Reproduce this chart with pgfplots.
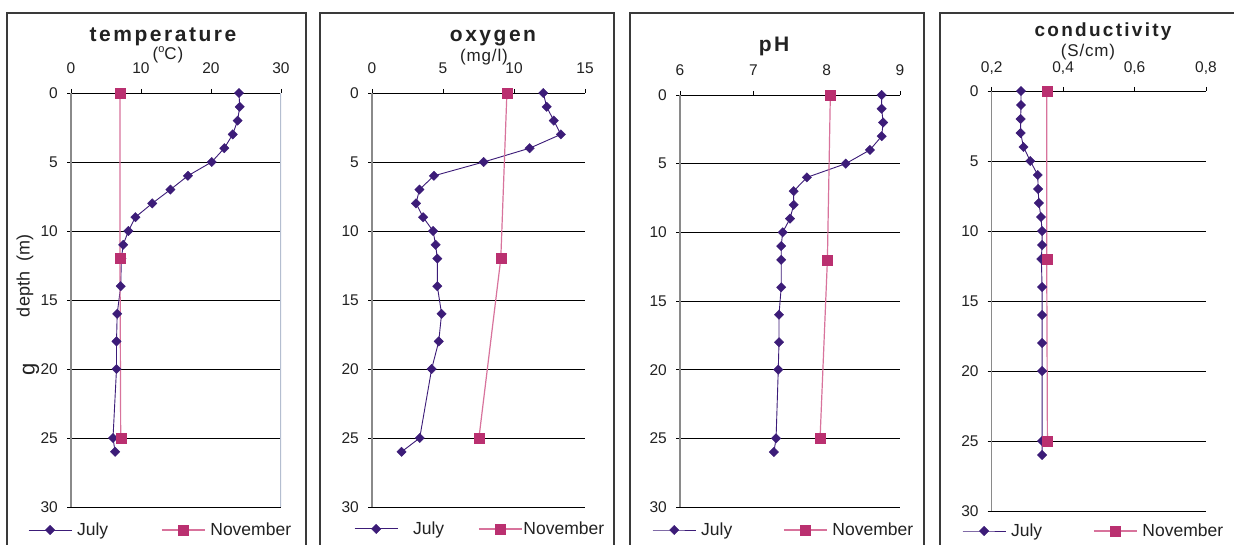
\documentclass[border=0pt]{standalone}
\usepackage{fontspec}
\setmainfont{Liberation Sans}
\newfontfamily\titlefont[LetterSpace=12]{Liberation Sans}
\newfontfamily\unitfont[LetterSpace=5]{Liberation Sans}
\usepackage{pgfplots}
\usepackage{pgfplotstable}
\pgfplotsset{compat=1.18}
\definecolor{jul}{HTML}{3C1C78}
\definecolor{novm}{HTML}{BA3070}
\definecolor{novl}{HTML}{D8739C}
\definecolor{framec}{HTML}{3A3A3A}
\definecolor{yaxis}{HTML}{8A8A8A}
\definecolor{rline}{HTML}{B4BED0}
\definecolor{txt}{HTML}{222222}

\pgfplotstableread{
depth temp oxy ph cond
0  24.0 12.06 8.75 0.282
1  24.1 12.30 8.75 0.282
2  23.8 12.80 8.77 0.281
3  23.1 13.30 8.75 0.281
4  21.9 11.10 8.59 0.289
5  20.1 7.86  8.26 0.308
6  16.7 4.36  7.73 0.329
7  14.2 3.34  7.55 0.330
8  11.6 3.10  7.55 0.332
9  9.2  3.60  7.50 0.338
10 8.2  4.30  7.40 0.341
11 7.45 4.48  7.38 0.341
12 7.2  4.60  7.38 0.339
14 7.1  4.60  7.38 0.341
16 6.6  4.90  7.35 0.341
18 6.5  4.70  7.35 0.341
20 6.5  4.20  7.34 0.341
25 6.0  3.36  7.31 0.341
26 6.3  2.08  7.28 0.341
}\july

\pgfplotstableread{
depth temp oxy ph cond
0  7.0 9.50 8.05 0.354
12 7.0 9.07 8.01 0.354
25 7.1 7.53 7.91 0.356
}\nov

\newcommand\tickfont{\fontsize{15.5}{16}\selectfont}
\newcommand\legfont{\fontsize{17.5}{18}\selectfont}

\pgfplotsset{
  panel/.style={
    scale only axis,
    anchor=south west,
    y dir=reverse,
    ymin=0, ymax=30,
    ytick={0,5,10,15,20,25,30},
    yticklabels={0,5,10,15,20,25,30},
    axis x line*=bottom,
    axis y line*=left,
    xtick pos=upper,
    xticklabel pos=upper,
    x axis line style={black, line width=0.8pt, -},
    y axis line style={yaxis, line width=1.5pt, -},
    ymajorgrids,
    major grid style={black, line width=0.8pt},
    tick align=outside,
    major tick length=4pt,
    tick style={black, line width=0.8pt},
    ticklabel style={font=\tickfont, inner sep=0pt, text=txt},
    xticklabel shift=15pt,
    yticklabel shift=9pt,
    legend columns=2,
    legend cell align=left,
    legend image code/.code={\draw[mark repeat=2,mark phase=2,##1] plot coordinates {(0pt,0pt) (21.5pt,0pt) (43pt,0pt)};},
    legend style={draw=none, fill=none, inner sep=0pt, font=\legfont, text=txt, anchor=west,
      nodes={inner sep=0pt},
      /tikz/every odd column/.append style={column sep=5pt}},
  },
  julst/.style={color=jul, line width=0.9pt, mark=square*, mark size=3.3pt,
    mark options={rotate=45, fill=jul, draw=jul, line width=0.4pt}},
  novst/.style={color=novl, line width=1.2pt, mark=square*, mark size=5pt,
    mark options={fill=novm, draw=novm, line width=0.4pt}},
}

\begin{document}
\begin{tikzpicture}[x=1pt,y=1pt]
\useasboundingbox (0,0) rectangle (1234,545);
\clip (0,0) rectangle (1234,545);
\fill[white] (0,0) rectangle (1234,545);
% panel frames
\draw[framec, line width=1.5pt] (7,-10) rectangle (306,532);
\draw[framec, line width=1.5pt] (320,-10) rectangle (614,532);
\draw[framec, line width=1.5pt] (630,-10) rectangle (924,532);
\draw[framec, line width=1.5pt] (940,-10) rectangle (1260,532);

% titles
\begin{scope}[every node/.style={text=txt}]
\node[anchor=base, font=\titlefont\bfseries\fontsize{21}{22}\selectfont] at (163,503) {temperature};
\node[anchor=base, font=\unitfont\fontsize{17}{18}\selectfont] at (168,485) {({\raisebox{0.42em}{\fontsize{11}{11}\selectfont o}}C)};
\node[anchor=base, font=\titlefont\bfseries\fontsize{21}{22}\selectfont] at (493,503) {oxygen};
\node[anchor=base, font=\unitfont\fontsize{17}{18}\selectfont] at (484,483) {(mg/l)};
\node[anchor=base, font=\titlefont\bfseries\fontsize{21}{22}\selectfont] at (774,493) {pH};
\node[anchor=base, font=\titlefont\bfseries\fontsize{19}{20}\selectfont] at (1103,508) {conductivity};
\node[anchor=base, font=\unitfont\fontsize{17}{18}\selectfont] at (1088,488) {(S/cm)};
\node[rotate=90, font=\fontsize{18}{19}\selectfont] at (25,269) {depth\ \ (m)};
\node[rotate=90, font=\fontsize{22}{23}\selectfont] at (31,176) {g};
\end{scope}

% temperature
\begin{axis}[panel, at={(71pt,38pt)}, width=210pt, height=414pt,
  xmin=0, xmax=30, xtick={0,10,20,30}, xticklabels={0,10,20,30},
  legend style={at={(axis description cs:-0.205,-0.0556)},
    /tikz/every even column/.append style={column sep=53pt}}]
\draw[rline, line width=1.2pt] (axis cs:30,0) -- (axis cs:30,30);
\addplot[julst] table[x=temp, y=depth] {\july};
\addplot[novst] table[x=temp, y=depth] {\nov};
\legend{July, November}
\end{axis}

% oxygen
\begin{axis}[panel, at={(372pt,38pt)}, width=213pt, height=414pt,
  xmin=0, xmax=15, xtick={0,5,10,15}, xticklabels={0,5,10,15},
  legend style={at={(axis description cs:-0.0845,-0.053)},
    /tikz/every even column/.append style={column sep=34pt},
    /tikz/every odd column/.append style={column sep=1pt}}]
\addplot[julst] table[x=oxy, y=depth] {\july};
\addplot[novst] table[x=oxy, y=depth] {\nov};
\legend{\hspace{14pt}July, November}
\end{axis}

% pH
\begin{axis}[panel, at={(680pt,38pt)}, width=220pt, height=412pt,
  xmin=6, xmax=9, xtick={6,7,8,9}, xticklabels={6,7,8,9},
  legend style={at={(axis description cs:-0.127,-0.0558)},
    /tikz/every even column/.append style={column sep=51pt}}]
\addplot[julst] table[x=ph, y=depth] {\july};
\addplot[novst] table[x=ph, y=depth] {\nov};
\legend{July, November}
\end{axis}

% conductivity
\begin{axis}[panel, at={(991.7pt,34pt)}, width=214.3pt, height=420pt,
  xmin=0.2, xmax=0.8, xtick={0.2,0.4,0.6,0.8}, xticklabels={{0,2},{0,4},{0,6},{0,8}},
  xticklabel shift=12pt,
  legend style={at={(axis description cs:-0.1386,-0.0476)},
    /tikz/every even column/.append style={column sep=51pt}}]
\addplot[julst] table[x=cond, y=depth] {\july};
\addplot[novst] table[x=cond, y=depth] {\nov};
\legend{July, November}
\end{axis}
\end{tikzpicture}
\end{document}
